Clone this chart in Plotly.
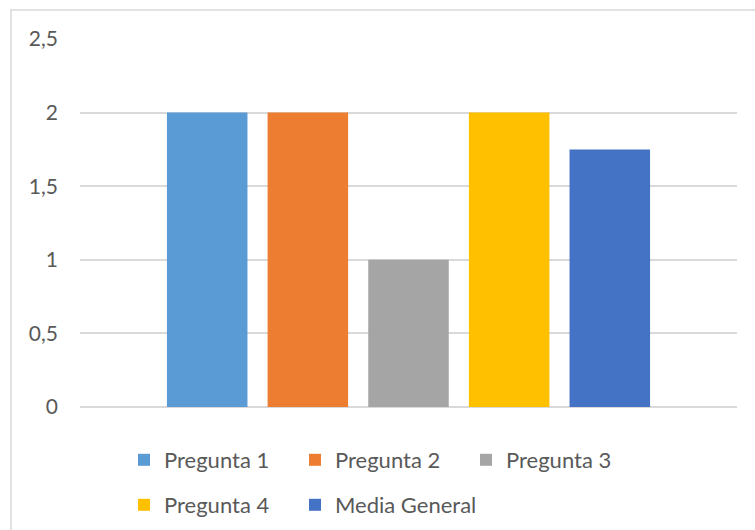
import plotly.graph_objects as go

# Series shown in the chart (one category, five series)
series_names = ["Pregunta 1", "Pregunta 2", "Pregunta 3", "Pregunta 4", "Media General"]
series_values = [2, 2, 1, 2, 1.75]
series_colors = ["#5B9BD5", "#ED7D31", "#A5A5A5", "#FFC000", "#4472C4"]
series_legend = ["legend", "legend", "legend", "legend2", "legend3"]

y_ticks = [0, 0.5, 1, 1.5, 2, 2.5]

FONT = "Lato"
TEXT_COLOR = "#595959"
GRID_COLOR = "#D9D9D9"
W, H = 755, 530

fig = go.Figure()
for name, val, col, leg in zip(series_names, series_values, series_colors, series_legend):
    fig.add_trace(go.Bar(
        x=[""], y=[val], name=name,
        marker=dict(color=col, line=dict(width=0)),
        legend=leg,
        hoverinfo="name+y",
    ))

legend_common = dict(
    orientation="h",
    xref="container",
    yref="container",
    xanchor="left",
    yanchor="middle",
    font=dict(family=FONT, size=22, color=TEXT_COLOR),
    bgcolor="rgba(0,0,0,0)",
    borderwidth=0,
    itemclick=False,
    itemdoubleclick=False,
)

# legend columns: left edges of the first and second column (container px)
col1_x, col2_x = 124, 295
row1_y, row2_y = 460, 505

plot_top, plot_bottom = 39, 407
plot_h = plot_bottom - plot_top


def paper_y(py):
    return (plot_bottom - py) / plot_h


fig.update_layout(
    width=W,
    height=H,
    margin=dict(l=80, r=18, t=plot_top, b=H - plot_bottom, autoexpand=False),
    paper_bgcolor="white",
    plot_bgcolor="white",
    separators=",.",
    barmode="group",
    bargap=0.234,
    bargroupgap=0.2,
    showlegend=True,
    font=dict(family=FONT, size=21, color=TEXT_COLOR),
    xaxis=dict(
        showticklabels=False,
        showgrid=False,
        zeroline=False,
        showline=False,
        ticks="",
    ),
    yaxis=dict(
        range=[0, 2.5],
        tickvals=y_ticks,
        showgrid=True,
        gridcolor=GRID_COLOR,
        gridwidth=1.5,
        zeroline=True,
        zerolinecolor=GRID_COLOR,
        zerolinewidth=1.5,
        showline=False,
        ticks="",
        ticklabelstandoff=21,
        tickfont=dict(family=FONT, size=21, color=TEXT_COLOR),
    ),
    legend=dict(legend_common, entrywidthmode="pixels", entrywidth=126,
                x=col1_x / W, y=1 - row1_y / H),
    legend2=dict(legend_common, x=col1_x / W, y=1 - row2_y / H),
    legend3=dict(legend_common, x=col2_x / W, y=1 - row2_y / H),
    shapes=[
        dict(
            type="rect", xref="paper", yref="paper",
            x0=(11 - 80) / 657, x1=(770 - 80) / 657,
            y0=paper_y(560), y1=paper_y(10),
            line=dict(color=GRID_COLOR, width=1.5),
            fillcolor="rgba(0,0,0,0)",
            layer="below",
        )
    ],
)

fig.write_html("out.html")
